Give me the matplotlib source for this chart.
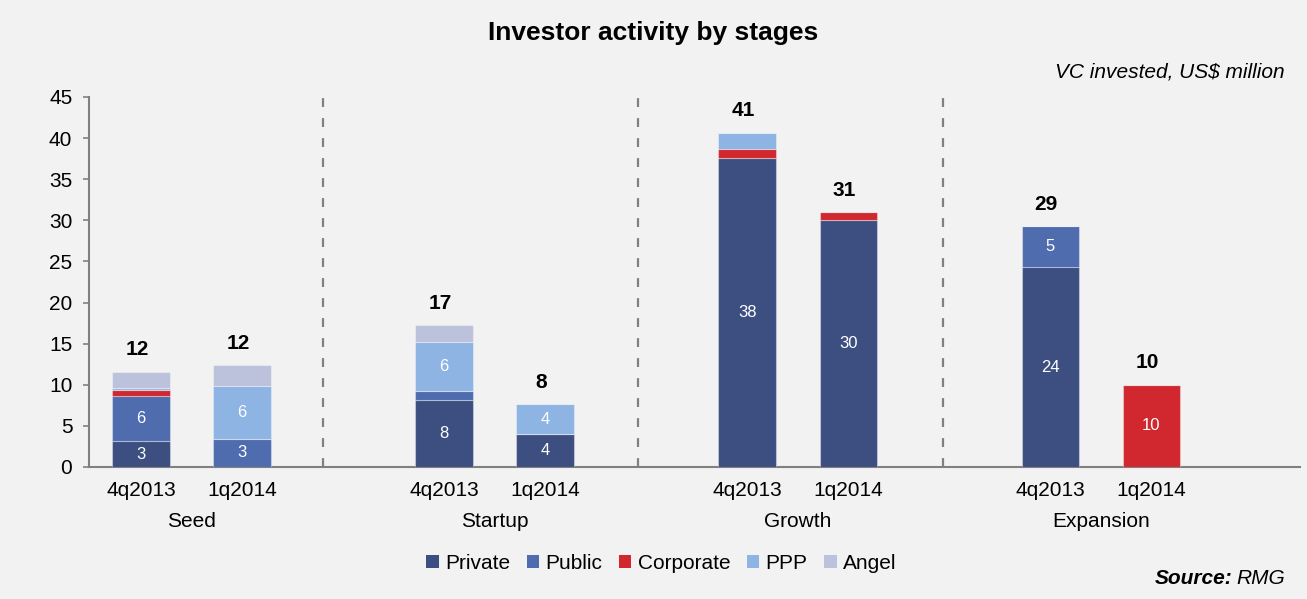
import matplotlib
matplotlib.use("Agg")
import matplotlib.pyplot as plt
from matplotlib.patches import Patch
import numpy as np

plt.rcParams['font.family'] = ['Liberation Sans', 'DejaVu Sans']

# ---- data ----
stages = ["Seed", "Startup", "Growth", "Expansion"]
periods = ["4q2013", "1q2014"]
series_names = ["Private", "Public", "Corporate", "PPP", "Angel"]
private = [3.1, 0.0, 8.2, 4.0, 37.6, 30.0, 24.3, 0.0]
public = [5.55, 3.45, 1.0, 0.0, 0.0, 0.0, 5.0, 0.0]
corporate = [0.7, 0.0, 0.05, 0.0, 1.05, 1.0, 0.0, 10.0]
ppp = [0.25, 6.45, 6.0, 3.65, 2.0, 0.0, 0.0, 0.0]
angel = [2.0, 2.5, 2.0, 0.0, 0.0, 0.0, 0.0, 0.0]
colors = ["#3c4f80", "#4f6cae", "#d0282e", "#8eb4e3", "#bcc2dc"]

bg = "#f2f2f2"
fig = plt.figure(figsize=(13.07, 5.99), dpi=100, facecolor=bg)
ax = fig.add_axes([0.0681, 0.2204, 0.9265, 0.6177], facecolor=bg)

x = np.array([0, 1, 3, 4, 6, 7, 9, 10], dtype=float)
width = 0.57
series = [private, public, corporate, ppp, angel]
bottom = np.zeros(len(x))
for vals, col in zip(series, colors):
    v = np.array(vals)
    ax.bar(x, v, width, bottom=bottom, color=col, edgecolor=(1, 1, 1, 0.35),
           linewidth=0.8, zorder=3)
    for xi, b, val in zip(x, bottom, v):
        if val >= 3:
            ax.text(xi, b + val / 2, f"{val:.0f}", ha="center", va="center",
                    color="white", fontsize=12, zorder=4)
    bottom += v

for xi, tot in zip(x, bottom):
    ax.annotate(f"{tot:.0f}", (xi, tot), xytext=(-3, 9), textcoords="offset points",
                ha="center", va="bottom", fontsize=15, fontweight="bold", color="black")

ax.set_ylim(0, 45)
ax.set_xlim(-0.515, 11.47)
ax.set_yticks(np.arange(0, 46, 5))
ax.set_xticks(x)
ax.set_xticklabels(periods * 4)
ax.tick_params(axis="y", labelsize=15, length=4, width=1.2, color="#808080", pad=8)
ax.tick_params(axis="x", labelsize=15, length=0, pad=10)

for s in ["top", "right"]:
    ax.spines[s].set_visible(False)
for s in ["left", "bottom"]:
    ax.spines[s].set_color("#808080")
    ax.spines[s].set_linewidth(1.5)

for sx in [1.80, 4.92, 7.94]:
    ax.plot([sx, sx], [0, 45.6], color="#808080", lw=1.6, ls=(0, (4, 5)),
            clip_on=False, zorder=2)

for i, st in enumerate(stages):
    cx = (x[2 * i] + x[2 * i + 1]) / 2
    ax.text(cx, -0.147, st, transform=ax.get_xaxis_transform(), ha="center",
            va="center", fontsize=15)

fig.text(0.5, 0.945, "Investor activity by stages", ha="center", va="center",
         fontsize=19, fontweight="bold")
fig.text(0.983, 0.88, "VC invested, US$ million", ha="right", va="center",
         fontsize=15, style="italic")
t = fig.text(0.983, 0.035, "RMG", ha="right", va="center", fontsize=15, style="italic")
fig.canvas.draw()
bb = t.get_window_extent()
fig.text(bb.x0 / fig.bbox.width - 0.003, 0.035, "Source:", ha="right", va="center",
         fontsize=15, style="italic", fontweight="bold")

handles = [Patch(facecolor=c, edgecolor="none") for c in colors]
fig.legend(handles, series_names, loc="center", bbox_to_anchor=(0.506, 0.06),
           ncol=5, frameon=False, fontsize=15, handlelength=0.6, handleheight=0.6,
           handletextpad=0.3, columnspacing=0.8)

fig.savefig("out.png", dpi=100, facecolor=bg)
